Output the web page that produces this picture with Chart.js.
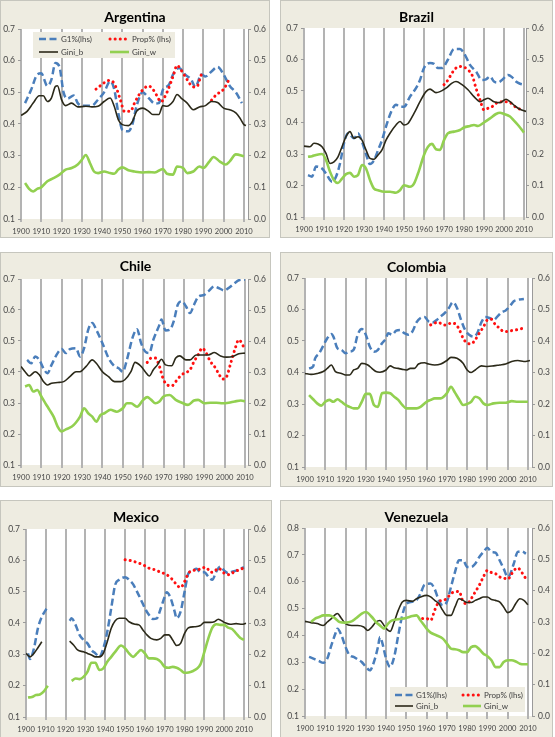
<!DOCTYPE html>
<html>
<head>
<meta charset="utf-8">
<script src="https://cdn.jsdelivr.net/npm/chart.js@4.4.1/dist/chart.umd.min.js"></script>
<style>
  html, body { margin: 0; padding: 0; background: #fff; }
  body { width: 555px; height: 737px; position: relative; overflow: hidden; }
  .panel { position: absolute; box-sizing: border-box; border: 1px solid #c6c6be; background: #eeece1; }
  .panel canvas { display: block; }
</style>
</head>
<body>
<script>
const countries = ['Argentina', 'Brazil', 'Chile', 'Colombia', 'Mexico', 'Venezuela'];
const seriesNames = ['G1%(lhs)', 'Prop% (lhs)', 'Gini_b', 'Gini_w'];
const yearTicks = [1900, 1910, 1920, 1930, 1940, 1950, 1960, 1970, 1980, 1990, 2000, 2010];

// Argentina (G1%, Prop% on left axis; Gini_b, Gini_w on right axis)
const argG1 = [[1902,.466],[1905,.508],[1908,.556],[1910,.56],[1913,.52],[1915,.54],[1917,.593],[1919,.58],[1921,.50],[1923,.48],[1926,.49],[1928,.466],[1930,.458],[1935,.458],[1938,.477],[1941,.50],[1944,.535],[1946,.51],[1948,.435],[1950,.382],[1953,.377],[1955,.40],[1957,.456],[1960,.50],[1963,.482],[1966,.465],[1968,.466],[1970,.508],[1973,.524],[1975,.556],[1978,.577],[1981,.556],[1984,.54],[1986,.517],[1989,.556],[1991,.55],[1994,.566],[1997,.58],[2000,.556],[2003,.52],[2006,.50],[2009,.466]];
const argProp = [[1937,.51],[1940,.525],[1943,.537],[1945,.535],[1947,.514],[1949,.477],[1951,.44],[1954,.44],[1956,.466],[1958,.49],[1961,.514],[1963,.52],[1965,.51],[1967,.49],[1969,.47],[1972,.50],[1975,.55],[1977,.585],[1979,.57],[1982,.54],[1985,.517],[1987,.52],[1989,.556],[1990,.56],[1991,null],[1994,.475],[1996,.49],[1998,.50],[2000,.51],[2003,.545]];
const argGiniB = [[1900,.327],[1903,.34],[1906,.366],[1909,.389],[1911,.389],[1913,.371],[1915,.382],[1917,.419],[1918,.421],[1920,.377],[1922,.358],[1925,.366],[1928,.354],[1932,.356],[1935,.354],[1938,.356],[1941,.371],[1944,.382],[1946,.356],[1948,.314],[1950,.298],[1953,.295],[1955,.308],[1957,.34],[1960,.35],[1963,.34],[1965,.33],[1968,.33],[1970,.358],[1972,.356],[1975,.371],[1977,.393],[1979,.382],[1982,.366],[1985,.345],[1988,.354],[1991,.358],[1994,.371],[1997,.368],[2000,.35],[2003,.345],[2006,.335],[2008,.319],[2010,.298],[2011,.295]];
const argGiniW = [[1902,.114],[1904,.095],[1906,.087],[1908,.095],[1910,.10],[1913,.119],[1916,.129],[1919,.14],[1922,.156],[1925,.161],[1928,.172],[1930,.187],[1932,.202],[1934,.177],[1936,.15],[1938,.145],[1941,.15],[1944,.145],[1946,.143],[1948,.156],[1950,.163],[1953,.154],[1956,.15],[1960,.147],[1963,.148],[1966,.147],[1970,.158],[1972,.143],[1975,.14],[1977,.166],[1980,.161],[1982,.145],[1985,.15],[1988,.166],[1990,.161],[1993,.182],[1995,.196],[1998,.182],[2001,.172],[2003,.182],[2006,.204],[2010,.198]];

// Brazil
const braG1 = [[1902,.233],[1904,.228],[1906,.26],[1909,.254],[1911,.238],[1914,.212],[1916,.228],[1918,.27],[1920,.334],[1922,.366],[1925,.35],[1927,.366],[1929,.339],[1931,.30],[1933,.268],[1935,.28],[1937,.312],[1939,.344],[1941,.387],[1944,.44],[1946,.456],[1948,.45],[1950,.45],[1953,.482],[1956,.509],[1958,.535],[1960,.573],[1963,.589],[1965,.586],[1967,.573],[1969,.573],[1972,.60],[1975,.633],[1978,.633],[1980,.62],[1983,.583],[1986,.562],[1989,.535],[1991,.537],[1993,.546],[1995,.53],[1997,.527],[1999,.535],[2002,.551],[2004,.544],[2006,.53],[2008,.523],[2010,.52]];
const braProp = [[1970,.52],[1972,.535],[1974,.557],[1976,.573],[1978,.578],[1980,.576],[1982,.567],[1984,.551],[1986,.509],[1988,.472],[1990,.44],[1992,.445],[1994,.45],[1996,.461],[1998,.466],[2000,.466],[2002,.466],[2004,.459],[2006,.448],[2008,.442]];
const braGiniB = [[1900,.225],[1903,.223],[1905,.234],[1907,.232],[1909,.223],[1911,.202],[1913,.17],[1915,.175],[1917,.191],[1919,.223],[1921,.255],[1923,.271],[1925,.25],[1927,.255],[1929,.244],[1931,.213],[1933,.186],[1935,.183],[1937,.197],[1939,.213],[1941,.244],[1943,.266],[1946,.292],[1948,.303],[1950,.292],[1952,.297],[1955,.329],[1958,.366],[1961,.398],[1963,.406],[1966,.395],[1968,.398],[1971,.409],[1974,.425],[1976,.43],[1979,.42],[1982,.404],[1985,.382],[1988,.366],[1990,.372],[1992,.377],[1995,.366],[1998,.363],[2001,.374],[2003,.366],[2006,.35],[2008,.342],[2011,.335]];
const braGiniW = [[1902,.191],[1904,.193],[1906,.197],[1909,.2],[1911,.181],[1913,.144],[1915,.117],[1917,.108],[1919,.122],[1921,.136],[1923,.14],[1925,.128],[1927,.133],[1929,.165],[1931,.154],[1933,.117],[1935,.09],[1937,.085],[1940,.08],[1943,.08],[1946,.077],[1948,.085],[1950,.101],[1953,.096],[1955,.106],[1957,.138],[1960,.197],[1962,.223],[1964,.232],[1966,.215],[1968,.213],[1970,.244],[1972,.266],[1975,.271],[1978,.276],[1980,.284],[1983,.289],[1985,.292],[1987,.289],[1990,.30],[1993,.313],[1996,.327],[1998,.331],[2000,.327],[2003,.319],[2005,.306],[2007,.292],[2010,.268]];

// Chile
const chiG1 = [[1903,.439],[1905,.428],[1907,.45],[1909,.439],[1911,.412],[1913,.396],[1915,.423],[1918,.461],[1920,.474],[1922,.461],[1924,.474],[1927,.477],[1929,.45],[1931,.477],[1933,.536],[1935,.558],[1937,.536],[1940,.493],[1943,.445],[1946,.418],[1948,.412],[1950,.401],[1952,.439],[1955,.515],[1957,.538],[1959,.493],[1961,.466],[1963,.461],[1965,.504],[1968,.552],[1969,.569],[1971,.534],[1973,.536],[1975,.563],[1977,.617],[1979,.628],[1981,.612],[1983,.59],[1985,.617],[1987,.642],[1990,.649],[1992,.66],[1995,.676],[1997,.671],[2000,.663],[2002,.671],[2005,.687],[2007,.696],[2010,.698]];
const chiProp = [[1962,.431],[1964,.445],[1966,.445],[1968,.418],[1970,.375],[1972,.358],[1974,.355],[1976,.369],[1978,.385],[1980,.396],[1983,.407],[1985,.434],[1987,.455],[1989,.477],[1991,.461],[1993,.434],[1995,.418],[1997,.396],[1999,.377],[2001,.385],[2003,.428],[2005,.472],[2007,.504],[2008,.498],[2010,.472]];
const chiGiniB = [[1900,.318],[1902,.301],[1904,.287],[1907,.301],[1909,.291],[1911,.269],[1913,.258],[1915,.264],[1918,.266],[1921,.269],[1924,.285],[1927,.301],[1929,.301],[1932,.318],[1935,.339],[1937,.328],[1940,.301],[1943,.285],[1946,.269],[1949,.269],[1951,.275],[1954,.301],[1956,.331],[1959,.318],[1961,.301],[1963,.287],[1965,.307],[1967,.323],[1969,.341],[1971,.323],[1974,.32],[1976,.345],[1978,.352],[1981,.339],[1983,.339],[1986,.355],[1989,.355],[1992,.355],[1995,.363],[1998,.352],[2001,.348],[2004,.35],[2007,.359],[2010,.361]];
const chiGiniW = [[1902,.253],[1904,.258],[1906,.237],[1908,.242],[1910,.221],[1912,.199],[1914,.178],[1916,.156],[1918,.124],[1920,.108],[1922,.115],[1925,.124],[1927,.137],[1929,.156],[1931,.183],[1933,.167],[1935,.156],[1937,.14],[1939,.161],[1941,.167],[1944,.178],[1947,.172],[1950,.183],[1952,.199],[1954,.199],[1957,.188],[1960,.21],[1962,.219],[1964,.21],[1966,.199],[1968,.205],[1970,.221],[1973,.226],[1976,.21],[1979,.201],[1982,.194],[1985,.208],[1987,.21],[1990,.199],[1993,.201],[1996,.201],[1999,.199],[2002,.201],[2005,.205],[2008,.208],[2010,.205]];

// Colombia
const colG1 = [[1902,.413],[1904,.419],[1905,.445],[1907,.461],[1909,.485],[1911,.509],[1913,.522],[1914,.514],[1916,.477],[1918,.472],[1920,.461],[1922,.466],[1924,.472],[1926,.52],[1928,.538],[1930,.52],[1932,.482],[1934,.466],[1936,.472],[1938,.493],[1940,.509],[1941,.525],[1943,.52],[1945,.533],[1947,.535],[1949,.525],[1951,.52],[1953,.53],[1955,.559],[1957,.573],[1959,.576],[1961,.562],[1963,.559],[1965,.567],[1967,.578],[1969,.589],[1971,.605],[1973,.623],[1975,.605],[1977,.567],[1979,.535],[1981,.52],[1983,.514],[1985,.525],[1987,.559],[1989,.576],[1991,.573],[1993,.567],[1995,.578],[1997,.591],[1999,.597],[2001,.61],[2003,.626],[2005,.631],[2008,.633]];
const colProp = [[1962,.551],[1964,.557],[1966,.559],[1968,.551],[1970,.551],[1972,.557],[1974,.555],[1976,.538],[1978,.509],[1980,.493],[1982,.491],[1984,.504],[1986,.525],[1988,.544],[1990,.567],[1992,.569],[1994,.551],[1996,.541],[1998,.53],[2000,.53],[2002,.533],[2004,.535],[2006,.538],[2008,.541]];
const colGiniB = [[1900,.297],[1903,.294],[1906,.297],[1909,.303],[1911,.313],[1913,.324],[1915,.303],[1918,.297],[1920,.292],[1922,.292],[1924,.308],[1926,.313],[1928,.329],[1931,.324],[1933,.313],[1935,.303],[1937,.301],[1940,.308],[1942,.321],[1944,.315],[1946,.313],[1948,.31],[1950,.308],[1952,.313],[1954,.313],[1956,.327],[1959,.331],[1961,.327],[1964,.324],[1967,.327],[1970,.338],[1972,.348],[1975,.345],[1978,.329],[1980,.308],[1982,.30],[1984,.308],[1987,.321],[1990,.319],[1993,.321],[1996,.324],[1999,.327],[2002,.335],[2005,.338],[2008,.335],[2011,.338]];
const colGiniW = [[1902,.228],[1904,.215],[1906,.202],[1908,.195],[1910,.207],[1912,.213],[1914,.207],[1916,.215],[1918,.207],[1920,.197],[1922,.191],[1924,.186],[1926,.186],[1928,.207],[1930,.232],[1932,.232],[1934,.197],[1936,.191],[1938,.234],[1940,.236],[1942,.234],[1944,.223],[1946,.213],[1948,.197],[1950,.186],[1953,.186],[1955,.186],[1957,.191],[1960,.207],[1962,.213],[1964,.218],[1967,.218],[1970,.234],[1972,.255],[1974,.236],[1976,.215],[1978,.197],[1980,.20],[1982,.207],[1984,.223],[1986,.218],[1988,.202],[1990,.197],[1993,.202],[1996,.204],[1999,.204],[2002,.209],[2005,.207],[2008,.207],[2010,.207]];

// Mexico (no data 1912-1921)
const mexG1 = [[1901,.303],[1902,.285],[1904,.319],[1906,.383],[1908,.42],[1910,.442],[1911,.452],[1912,null],[1922,.407],[1923,.415],[1925,.394],[1927,.362],[1929,.346],[1931,.335],[1933,.314],[1935,.303],[1937,.292],[1939,.319],[1941,.372],[1943,.447],[1945,.522],[1947,.538],[1950,.546],[1952,.538],[1954,.524],[1956,.50],[1958,.474],[1960,.447],[1962,.426],[1964,.413],[1966,.415],[1968,.447],[1970,.484],[1971,.498],[1973,.479],[1975,.436],[1976,.415],[1978,.436],[1980,.50],[1982,.559],[1984,.567],[1986,.573],[1988,.562],[1990,.562],[1992,.548],[1994,.538],[1996,.564],[1998,.58],[2000,.567],[2002,.559],[2004,.564],[2006,.567],[2008,.573],[2010,.578]];
const mexProp = [[1950,.602],[1953,.599],[1956,.593],[1959,.586],[1962,.575],[1965,.57],[1968,.562],[1971,.554],[1974,.538],[1976,.522],[1978,.513],[1980,.532],[1982,.559],[1984,.567],[1987,.57],[1989,.577],[1991,.577],[1993,.562],[1995,.564],[1997,.575],[2000,.559],[2003,.554],[2005,.564],[2008,.57],[2010,.577]];
const mexGiniB = [[1900,.203],[1902,.192],[1904,.203],[1906,.221],[1908,.24],[1909,null],[1922,.242],[1924,.23],[1926,.214],[1929,.208],[1931,.203],[1933,.198],[1935,.192],[1937,.192],[1939,.203],[1941,.24],[1943,.283],[1945,.307],[1947,.315],[1950,.315],[1952,.304],[1955,.296],[1957,.294],[1959,.278],[1961,.262],[1963,.251],[1966,.246],[1968,.251],[1970,.262],[1972,.262],[1974,.246],[1976,.228],[1978,.235],[1980,.267],[1982,.285],[1985,.288],[1988,.292],[1990,.302],[1993,.302],[1995,.304],[1997,.312],[2000,.302],[2003,.296],[2006,.298],[2009,.296],[2011,.299]];
const mexGiniW = [[1901,.062],[1903,.064],[1905,.07],[1907,.072],[1909,.082],[1911,.10],[1912,null],[1923,.115],[1925,.123],[1927,.121],[1929,.128],[1931,.144],[1933,.173],[1935,.173],[1937,.15],[1939,.155],[1941,.176],[1943,.192],[1945,.208],[1948,.228],[1950,.219],[1952,.203],[1954,.192],[1956,.203],[1958,.214],[1960,.203],[1962,.187],[1964,.187],[1966,.185],[1968,.176],[1970,.16],[1972,.157],[1974,.16],[1976,.157],[1978,.15],[1980,.141],[1982,.142],[1984,.146],[1986,.153],[1988,.168],[1990,.208],[1992,.251],[1994,.285],[1996,.296],[1998,.294],[2000,.294],[2002,.285],[2004,.281],[2006,.267],[2008,.253],[2010,.246]];

// Venezuela (left axis runs to 0.8)
const venG1 = [[1902,.32],[1905,.311],[1907,.304],[1909,.298],[1911,.314],[1913,.363],[1915,.407],[1916,.425],[1918,.40],[1920,.357],[1922,.326],[1924,.32],[1926,.311],[1928,.301],[1930,.283],[1932,.27],[1934,.301],[1936,.357],[1937,.394],[1938,.376],[1940,.314],[1942,.283],[1944,.32],[1946,.40],[1948,.475],[1950,.518],[1953,.525],[1955,.531],[1957,.556],[1959,.589],[1962,.593],[1964,.572],[1966,.531],[1968,.512],[1970,.525],[1972,.58],[1974,.636],[1976,.68],[1978,.68],[1980,.655],[1982,.655],[1984,.667],[1986,.692],[1988,.711],[1990,.726],[1992,.711],[1994,.708],[1996,.68],[1998,.649],[2000,.618],[2001,.624],[2003,.667],[2005,.711],[2007,.713],[2009,.704]];
const venProp = [[1958,.463],[1960,.463],[1962,.456],[1964,.494],[1966,.525],[1968,.531],[1970,.537],[1972,.556],[1974,.562],[1976,.564],[1978,.525],[1980,.518],[1982,.537],[1984,.562],[1986,.587],[1988,.618],[1990,.642],[1992,.634],[1994,.63],[1996,.618],[1998,.614],[2000,.609],[2002,.63],[2004,.649],[2005,.651],[2007,.634],[2009,.611]];
const venGiniB = [[1900,.302],[1903,.298],[1906,.295],[1909,.289],[1911,.30],[1913,.311],[1916,.327],[1918,.311],[1920,.295],[1923,.289],[1926,.289],[1929,.284],[1931,.273],[1933,.284],[1935,.30],[1937,.305],[1939,.289],[1941,.273],[1942,.27],[1944,.30],[1946,.337],[1948,.364],[1950,.369],[1953,.366],[1955,.374],[1957,.38],[1960,.385],[1962,.38],[1964,.369],[1966,.359],[1968,.337],[1970,.321],[1972,.321],[1974,.348],[1976,.374],[1978,.369],[1980,.362],[1982,.362],[1984,.369],[1986,.374],[1988,.38],[1990,.38],[1992,.372],[1994,.369],[1996,.364],[1998,.348],[2000,.33],[2002,.337],[2004,.359],[2006,.374],[2008,.369],[2010,.355]];
const venGiniW = [[1903,.30],[1905,.311],[1907,.316],[1909,.321],[1912,.321],[1915,.311],[1917,.30],[1920,.298],[1923,.302],[1925,.311],[1928,.327],[1930,.332],[1933,.316],[1935,.30],[1937,.289],[1939,.279],[1941,.295],[1943,.305],[1946,.309],[1950,.313],[1953,.319],[1955,.321],[1957,.305],[1960,.279],[1962,.266],[1965,.257],[1968,.247],[1970,.231],[1972,.215],[1974,.213],[1976,.21],[1978,.204],[1980,.204],[1982,.22],[1984,.223],[1986,.213],[1988,.199],[1990,.191],[1992,.178],[1994,.156],[1996,.156],[1998,.172],[2000,.178],[2002,.178],[2004,.174],[2006,.167],[2008,.165],[2010,.165]];

const panelSeries = [
    [argG1, argProp, argGiniB, argGiniW],
    [braG1, braProp, braGiniB, braGiniW],
    [chiG1, chiProp, chiGiniB, chiGiniW],
    [colG1, colProp, colGiniB, colGiniW],
    [mexG1, mexProp, mexGiniB, mexGiniW],
    [venG1, venProp, venGiniB, venGiniW]
];
const leftMax = [0.7, 0.7, 0.7, 0.7, 0.7, 0.8];

// page layout: panel box [x, y, w, h], plot area [l, t, r, b], title centre y
const layout = [
    { box: [0, 0, 270, 238],   plot: [21, 29, 248, 219],   titleY: 17,  xMax: 2012 },
    { box: [280, 0, 273, 238], plot: [304, 28, 526, 217],  titleY: 17,  xMax: 2011 },
    { box: [0, 252, 271, 235], plot: [21, 279, 248, 465],  titleY: 266, xMax: 2011.5 },
    { box: [280, 252, 273, 235], plot: [305, 278, 532, 467], titleY: 267, xMax: 2012 },
    { box: [0, 500, 272, 238], plot: [26, 529, 248, 717],  titleY: 517, xMax: 2012 },
    { box: [280, 500, 273, 238], plot: [305, 528, 532, 716], titleY: 517, xMax: 2012 }
];

const lineStyles = [
    { borderColor: '#4a7ebb', borderWidth: 2.5, borderDash: [7, 3.5], yAxisID: 'yL' },
    { borderColor: '#ff1010', borderWidth: 3, borderDash: [0.1, 5], borderCapStyle: 'round', yAxisID: 'yL' },
    { borderColor: '#2b2919', borderWidth: 1.6, yAxisID: 'yR' },
    { borderColor: '#92d050', borderWidth: 2.6, yAxisID: 'yR' }
];

Chart.defaults.font.family = 'Lato, "Open Sans", sans-serif';
Chart.defaults.color = '#474747';

const plotBg = {
    id: 'plotBg',
    beforeDraw(chart) {
        const a = chart.chartArea, ctx = chart.ctx;
        ctx.save();
        ctx.fillStyle = '#ffffff';
        ctx.fillRect(a.left, a.top, a.right - a.left, a.bottom - a.top);
        ctx.restore();
    }
};

// legend drawn inside the plot area
const insideLegend = {
    id: 'insideLegend',
    afterDatasetsDraw(chart, args, o) {
        if (!o || !o.show) return;
        const ctx = chart.ctx, a = chart.chartArea;
        const x = o.corner === 'tl' ? a.left + o.dx : a.right - o.dx - o.w;
        const y = o.corner === 'tl' ? a.top + o.dy : a.bottom - o.dy - o.h;
        ctx.save();
        ctx.fillStyle = '#eeece1';
        ctx.fillRect(x, y, o.w, o.h);
        chart.data.datasets.forEach((ds, i) => {
            const sx = x + o.padX + (i % 2) * o.colW;
            const sy = y + o.rowY[Math.floor(i / 2)];
            ctx.beginPath();
            ctx.strokeStyle = ds.borderColor;
            ctx.lineWidth = ds.borderWidth;
            ctx.setLineDash(ds.borderDash || []);
            ctx.lineCap = ds.borderCapStyle || 'butt';
            ctx.moveTo(sx, sy);
            ctx.lineTo(sx + o.sample, sy);
            ctx.stroke();
            ctx.setLineDash([]);
            ctx.fillStyle = '#404040';
            ctx.font = '8px Lato, sans-serif';
            ctx.textBaseline = 'middle';
            ctx.fillText(ds.label, sx + o.sample + 3, sy);
        });
        ctx.restore();
    }
};

const legends = [
    { show: true, corner: 'tl', dx: 12, dy: 3, w: 142, h: 26, padX: 6, colW: 71, sample: 19, rowY: [7, 20] },
    { show: false }, { show: false }, { show: false }, { show: false },
    { show: true, corner: 'br', dx: 7, dy: 4, w: 135, h: 25, padX: 5, colW: 68, sample: 18, rowY: [8, 19] }
];

function makePanel(idx) {
    const L = layout[idx];
    const [bx, by, bw, bh] = L.box;
    const div = document.createElement('div');
    div.className = 'panel';
    div.style.left = bx + 'px';
    div.style.top = by + 'px';
    div.style.width = bw + 'px';
    div.style.height = bh + 'px';
    const cv = document.createElement('canvas');
    cv.width = bw - 2;
    cv.height = bh - 2;
    div.appendChild(cv);
    document.body.appendChild(div);

    const cx = bx + 1, cy = by + 1;
    const [pl, pt, pr, pb] = L.plot;
    const leftW = pl - cx;
    const rightW = cx + cv.width - pr;
    const bottomH = cy + cv.height - pb;
    const padTop = L.titleY - cy - 8.4;
    const padBottom = pt - L.titleY - 8.4;

    const datasets = panelSeries[idx].map((pts, i) => Object.assign({
        label: seriesNames[i],
        data: pts.map(p => ({ x: p[0], y: p[1] })),
        pointRadius: 0,
        fill: false,
        spanGaps: false,
        cubicInterpolationMode: 'monotone',
        order: 3 - i
    }, lineStyles[i]));

    const yFont = { size: 8.5 };
    const xFont = { size: 7.6 };
    new Chart(cv, {
        type: 'line',
        data: { datasets: datasets },
        options: {
            responsive: false,
            animation: false,
            layout: { padding: 0 },
            plugins: {
                legend: { display: false },
                tooltip: { enabled: false },
                title: {
                    display: true,
                    text: countries[idx],
                    color: '#000',
                    font: { size: 14, weight: 'bold', lineHeight: 1.2 },
                    padding: { top: padTop, bottom: padBottom }
                },
                insideLegend: legends[idx]
            },
            scales: {
                x: {
                    type: 'linear',
                    min: 1900,
                    max: L.xMax,
                    afterBuildTicks: s => { s.ticks = yearTicks.map(v => ({ value: v })); },
                    afterFit: s => { s.height = bottomH; },
                    ticks: { autoSkip: false, maxRotation: 0, padding: 5, font: xFont, callback: v => String(v) },
                    grid: { color: '#b3b3b3', lineWidth: 2, tickLength: 3 },
                    border: { display: false }
                },
                yL: {
                    position: 'left',
                    min: 0.1,
                    max: leftMax[idx],
                    afterFit: s => { s.width = leftW; },
                    ticks: { stepSize: 0.1, padding: 3, font: yFont, callback: v => v.toFixed(1) },
                    grid: { drawOnChartArea: false, color: '#9a9a9a', tickLength: 3 },
                    border: { display: true, color: '#b3b3b3' }
                },
                yR: {
                    position: 'right',
                    min: 0,
                    max: 0.6,
                    afterFit: s => { s.width = rightW; },
                    ticks: { stepSize: 0.1, padding: 3, font: yFont, callback: v => v.toFixed(1) },
                    grid: { drawOnChartArea: false, color: '#9a9a9a', tickLength: 3 },
                    border: { display: true, color: '#9a9a9a' }
                }
            }
        },
        plugins: [plotBg, insideLegend]
    });
}

for (let i = 0; i < countries.length; i++) makePanel(i);
</script>
</body>
</html>
